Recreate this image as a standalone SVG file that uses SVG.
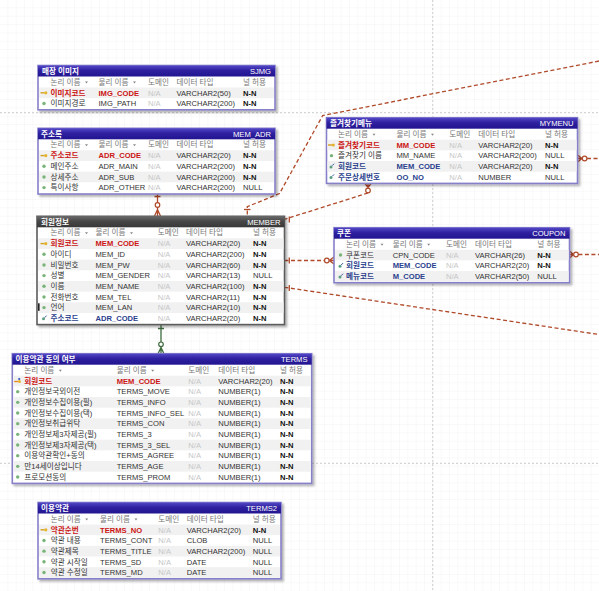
<svg xmlns="http://www.w3.org/2000/svg" xmlns:xlink="http://www.w3.org/1999/xlink" width="599" height="591" viewBox="0 0 599 591">
<style>
text{font-family:"Liberation Sans","Noto Sans CJK KR",sans-serif;font-size:7.6px;fill:#333}
.tt{fill:#fff;font-weight:bold}
.tr{fill:#fff}
.h{fill:#777}
.pk{fill:#cc1414;font-weight:bold}
.fk{fill:#2a3f8e;font-weight:bold}
.na{fill:#c6c6c6}
.nn{fill:#111;font-weight:bold}
.frame{fill:#fff;stroke:#8680c8;stroke-width:1.6}
.gframe{fill:#fff;stroke:#5c5c5c;stroke-width:1.6}
.s{fill:#f1f1f1}
.c{fill:none;stroke:#b04a2a;stroke-width:1.3}
.d{stroke-dasharray:4 2.5}
.g{fill:none;stroke:#3d6b3d;stroke-width:1.3}
.pg{stroke:#d4d4d4;stroke-width:1.2;stroke-dasharray:2 2}
</style>
<defs>
<pattern id="grid" width="8.333" height="8.333" patternUnits="userSpaceOnUse">
<path d="M8.333,0 V8.333 M0,8.333 H8.333" fill="none" stroke="#ececec" stroke-width="0.6"/>
</pattern>
<linearGradient id="tb" x1="0" y1="0" x2="0" y2="1">
<stop offset="0" stop-color="#5448c8"/><stop offset="0.45" stop-color="#2e209f"/><stop offset="1" stop-color="#221590"/>
</linearGradient>
<linearGradient id="tg" x1="0" y1="0" x2="0" y2="1">
<stop offset="0" stop-color="#6a6a6a"/><stop offset="0.45" stop-color="#474747"/><stop offset="1" stop-color="#383838"/>
</linearGradient>
<filter id="sh" x="-5%" y="-5%" width="115%" height="120%">
<feDropShadow dx="2" dy="2" stdDeviation="1.2" flood-color="#000" flood-opacity="0.3"/>
</filter>
<g id="ipk"><path d="M-3.5,0 H0.5" stroke="#d4a020" stroke-width="1.4"/><circle cx="1.8" cy="0" r="1.6" fill="#e6b42c"/></g>
<g id="ipf"><path d="M-3.5,0.5 H0.5" stroke="#e08a20" stroke-width="1.4"/><circle cx="1.8" cy="0.5" r="1.5" fill="#e6b42c"/><circle cx="1.5" cy="-2" r="1.1" fill="#3355bb"/></g>
<circle id="inn" r="1.7" fill="#78b478"/>
<g id="ifk"><circle cx="-0.5" cy="0.6" r="1.5" fill="#5aa080"/><path d="M0.6,-0.6 L2.6,-2.6" stroke="#3355aa" stroke-width="1"/></g>
<path id="tri" d="M0,-1.5 L3,-1.5 L1.5,0.5 Z" fill="#888"/>
</defs>

<rect width="599" height="591" fill="#fff"/>
<rect width="599" height="591" fill="url(#grid)"/>
<g id="pagebreaks">
<line class="pg" x1="432.7" y1="0" x2="432.7" y2="591"/>
<line class="pg" x1="0" y1="112.7" x2="599" y2="112.7"/>
<line class="pg" x1="0" y1="463.3" x2="599" y2="463.3"/>
</g>

<g id="connectors">
<polyline class="c d" points="599,61 322.7,115.5 279.5,193.5 247.3,206.7 247.3,216"/>
<path class="c" d="M244,209.5 H250.5"/>
<path class="c" d="M157.5,193 V216 M154.5,196.5 H160.5 M157.5,209.5 L154.5,216 M157.5,209.5 L160.5,216"/>
<circle cx="157.5" cy="205" r="2.3" fill="#fff" stroke="#b04a2a" stroke-width="1.2"/>
<path class="c d" d="M368,193 L284.5,219.3"/>
<path class="c" d="M289.3,216.5 V222.5 M368,187.5 L365,183.5 M368,187.5 V183.5 M368,187.5 L371,183.5"/>
<circle cx="368" cy="190.5" r="2.3" fill="#fff" stroke="#b04a2a" stroke-width="1.2"/>
<path class="c d" d="M284.5,260.5 H324.5"/>
<path class="c" d="M289.3,257.5 V263.5 M329.2,260.5 L334,257 M329.2,260.5 H334 M329.2,260.5 L334,264"/>
<circle cx="326.8" cy="260.5" r="2.3" fill="#fff" stroke="#b04a2a" stroke-width="1.2"/>
<path class="c d" d="M284.5,287.3 L599,334.5"/>
<path class="c" d="M289.3,285 V291"/>
<path class="c" d="M582,158.5 L577.5,155 M582,158.5 H577.5 M582,158.5 L577.5,162"/>
<circle cx="584.6" cy="158.5" r="2.3" fill="#fff" stroke="#b04a2a" stroke-width="1.2"/>
<path class="c d" d="M587,158.5 H599"/>
<path class="c" d="M573.5,254.5 L569.5,251 M573.5,254.5 H569.5 M573.5,254.5 L569.5,258"/>
<circle cx="576" cy="254.5" r="2.3" fill="#fff" stroke="#b04a2a" stroke-width="1.2"/>
<path class="c d" d="M578.4,254.5 H599"/>
<path class="g" d="M161,324.5 V353.7 M158,328.5 H164 M161,347.5 L158,353.7 M161,347.5 L164,353.7"/>
<circle cx="161" cy="344.3" r="2.3" fill="#fff" stroke="#3d6b3d" stroke-width="1.2"/>
</g>

<!-- SJMG -->
<g id="t-sjmg">
<rect class="frame" x="38" y="65.5" width="237" height="44.3" filter="url(#sh)"/>
<rect x="38" y="65.5" width="237" height="11" fill="url(#tb)"/>
<text class="tt" x="42" y="74">매장 이미지</text>
<text class="tr" x="271" y="74" text-anchor="end">SJMG</text>
<text class="h" x="50.5" y="84.5">논리 이름</text><use href="#tri" x="85" y="83"/>
<text class="h" x="98.5" y="84.5">물리 이름</text><use href="#tri" x="133" y="83"/>
<text class="h" x="148" y="84.5">도메인</text>
<text class="h" x="176.5" y="84.5">데이터 타입</text>
<text class="h" x="243" y="84.5">널 허용</text>
<g transform="translate(0,87.5)"><rect class="s" x="39" width="235" height="10.67"/><use href="#ipk" x="44" y="5.3"/>
<text class="pk" x="50.5" y="8">이미지코드</text><text class="pk" x="98.5" y="8">IMG_CODE</text><text class="na" x="148" y="8">N/A</text><text x="176.5" y="8">VARCHAR2(50)</text><text class="nn" x="243" y="8">N-N</text></g>
<g transform="translate(0,98.17)"><use href="#inn" x="44" y="5.3"/>
<text x="50.5" y="8">이미지경로</text><text x="98.5" y="8">IMG_PATH</text><text class="na" x="148" y="8">N/A</text><text x="176.5" y="8">VARCHAR2(200)</text><text class="nn" x="243" y="8">N-N</text></g>
</g>

<!-- MEM_ADR -->
<g id="t-mem-adr">
<rect class="frame" x="38" y="128.3" width="237" height="65.7" filter="url(#sh)"/>
<rect x="38" y="128.3" width="237" height="11" fill="url(#tb)"/>
<text class="tt" x="41" y="136.8">주소록</text>
<text class="tr" x="271" y="136.8" text-anchor="end">MEM_ADR</text>
<text class="h" x="50.5" y="147.3">논리 이름</text><use href="#tri" x="85" y="145.8"/>
<text class="h" x="98.5" y="147.3">물리 이름</text><use href="#tri" x="133" y="145.8"/>
<text class="h" x="148" y="147.3">도메인</text>
<text class="h" x="176.5" y="147.3">데이터 타입</text>
<text class="h" x="243" y="147.3">널 허용</text>
<g transform="translate(0,150.3)"><rect class="s" x="39" width="235" height="10.67"/><use href="#ipk" x="44" y="5.3"/>
<text class="pk" x="50.5" y="8">주소코드</text><text class="pk" x="98.5" y="8">ADR_CODE</text><text class="na" x="148" y="8">N/A</text><text x="176.5" y="8">VARCHAR2(20)</text><text class="nn" x="243" y="8">N-N</text></g>
<g transform="translate(0,160.97)"><use href="#inn" x="44" y="5.3"/>
<text x="50.5" y="8">메인주소</text><text x="98.5" y="8">ADR_MAIN</text><text class="na" x="148" y="8">N/A</text><text x="176.5" y="8">VARCHAR2(200)</text><text class="nn" x="243" y="8">N-N</text></g>
<g transform="translate(0,171.63)"><rect class="s" x="39" width="235" height="10.67"/><use href="#inn" x="44" y="5.3"/>
<text x="50.5" y="8">상세주소</text><text x="98.5" y="8">ADR_SUB</text><text class="na" x="148" y="8">N/A</text><text x="176.5" y="8">VARCHAR2(200)</text><text class="nn" x="243" y="8">N-N</text></g>
<g transform="translate(0,182.3)"><use href="#inn" x="44" y="5.3"/>
<text x="50.5" y="8">특이사항</text><text x="98.5" y="8">ADR_OTHER</text><text class="na" x="148" y="8">N/A</text><text x="176.5" y="8">VARCHAR2(200)</text><text x="243" y="8">NULL</text></g>
</g>

<!-- MYMENU -->
<g id="t-mymenu">
<rect class="frame" x="326.5" y="117.7" width="251" height="65.7" filter="url(#sh)"/>
<rect x="326.5" y="117.7" width="251" height="11" fill="url(#tb)"/>
<text class="tt" x="330" y="126.2">즐겨찾기메뉴</text>
<text class="tr" x="573.5" y="126.2" text-anchor="end">MYMENU</text>
<text class="h" x="338" y="136.7">논리 이름</text><use href="#tri" x="372.5" y="135.2"/>
<text class="h" x="396.5" y="136.7">물리 이름</text><use href="#tri" x="431" y="135.2"/>
<text class="h" x="449.3" y="136.7">도메인</text>
<text class="h" x="478.3" y="136.7">데이터 타입</text>
<text class="h" x="545" y="136.7">널 허용</text>
<g transform="translate(0,139.7)"><rect class="s" x="327.5" width="249" height="10.67"/><use href="#ipk" x="331.5" y="5.3"/>
<text class="pk" x="338" y="8">즐겨찾기코드</text><text class="pk" x="396.5" y="8">MM_CODE</text><text class="na" x="449.3" y="8">N/A</text><text x="478.3" y="8">VARCHAR2(20)</text><text class="nn" x="545" y="8">N-N</text></g>
<g transform="translate(0,150.37)"><use href="#inn" x="331.5" y="5.3"/>
<text x="338" y="8">즐겨찾기 이름</text><text x="396.5" y="8">MM_NAME</text><text class="na" x="449.3" y="8">N/A</text><text x="478.3" y="8">VARCHAR2(200)</text><text x="545" y="8">NULL</text></g>
<g transform="translate(0,161.03)"><rect class="s" x="327.5" width="249" height="10.67"/><use href="#ifk" x="331.5" y="5.3"/>
<text class="fk" x="338" y="8">회원코드</text><text class="fk" x="396.5" y="8">MEM_CODE</text><text class="na" x="449.3" y="8">N/A</text><text x="478.3" y="8">VARCHAR2(20)</text><text class="nn" x="545" y="8">N-N</text></g>
<g transform="translate(0,171.7)"><use href="#ifk" x="331.5" y="5.3"/>
<text class="fk" x="338" y="8">주문상세번호</text><text class="fk" x="396.5" y="8">OO_NO</text><text class="na" x="449.3" y="8">N/A</text><text x="478.3" y="8">NUMBER</text><text x="545" y="8">NULL</text></g>
</g>

<!-- MEMBER -->
<g id="t-member">
<rect class="gframe" x="37" y="216.3" width="247.5" height="108.3" filter="url(#sh)"/>
<rect x="37" y="216.3" width="247.5" height="11" fill="url(#tg)"/>
<text class="tt" x="41" y="224.8">회원정보</text>
<text class="tr" x="280.5" y="224.8" text-anchor="end">MEMBER</text>
<text class="h" x="50.5" y="235.3">논리 이름</text><use href="#tri" x="85" y="233.8"/>
<text class="h" x="95.5" y="235.3">물리 이름</text><use href="#tri" x="130" y="233.8"/>
<text class="h" x="157.7" y="235.3">도메인</text>
<text class="h" x="186" y="235.3">데이터 타입</text>
<text class="h" x="253" y="235.3">널 허용</text>
<g transform="translate(0,238.3)"><rect class="s" x="38" width="245.5" height="10.67"/><use href="#ipk" x="44" y="5.3"/>
<text class="pk" x="50.5" y="8">회원코드</text><text class="pk" x="95.5" y="8">MEM_CODE</text><text class="na" x="157.7" y="8">N/A</text><text x="186" y="8">VARCHAR2(20)</text><text class="nn" x="253" y="8">N-N</text></g>
<g transform="translate(0,248.97)"><use href="#inn" x="44" y="5.3"/>
<text x="50.5" y="8">아이디</text><text x="95.5" y="8">MEM_ID</text><text class="na" x="157.7" y="8">N/A</text><text x="186" y="8">VARCHAR2(200)</text><text class="nn" x="253" y="8">N-N</text></g>
<g transform="translate(0,259.63)"><rect class="s" x="38" width="245.5" height="10.67"/><use href="#inn" x="44" y="5.3"/>
<text x="50.5" y="8">비밀번호</text><text x="95.5" y="8">MEM_PW</text><text class="na" x="157.7" y="8">N/A</text><text x="186" y="8">VARCHAR2(60)</text><text class="nn" x="253" y="8">N-N</text></g>
<g transform="translate(0,270.3)"><use href="#inn" x="44" y="5.3"/>
<text x="50.5" y="8">성별</text><text x="95.5" y="8">MEM_GENDER</text><text class="na" x="157.7" y="8">N/A</text><text x="186" y="8">VARCHAR2(13)</text><text x="253" y="8">NULL</text></g>
<g transform="translate(0,280.97)"><rect class="s" x="38" width="245.5" height="10.67"/><use href="#inn" x="44" y="5.3"/>
<text x="50.5" y="8">이름</text><text x="95.5" y="8">MEM_NAME</text><text class="na" x="157.7" y="8">N/A</text><text x="186" y="8">VARCHAR2(100)</text><text class="nn" x="253" y="8">N-N</text></g>
<g transform="translate(0,291.63)"><use href="#inn" x="44" y="5.3"/>
<text x="50.5" y="8">전화번호</text><text x="95.5" y="8">MEM_TEL</text><text class="na" x="157.7" y="8">N/A</text><text x="186" y="8">VARCHAR2(11)</text><text class="nn" x="253" y="8">N-N</text></g>
<g transform="translate(0,302.3)"><rect class="s" x="38" width="245.5" height="10.67"/><rect x="38" y="1" width="1.6" height="7.5" fill="#222"/><use href="#inn" x="44" y="5.3"/>
<text x="50.5" y="8">언어</text><text x="95.5" y="8">MEM_LAN</text><text class="na" x="157.7" y="8">N/A</text><text x="186" y="8">VARCHAR2(10)</text><text class="nn" x="253" y="8">N-N</text></g>
<g transform="translate(0,312.97)"><use href="#ifk" x="44" y="5.3"/>
<text class="fk" x="50.5" y="8">주소코드</text><text class="fk" x="95.5" y="8">ADR_CODE</text><text class="na" x="157.7" y="8">N/A</text><text x="186" y="8">VARCHAR2(20)</text><text class="nn" x="253" y="8">N-N</text></g>
</g>

<!-- COUPON -->
<g id="t-coupon">
<rect class="frame" x="334" y="227.7" width="235.5" height="55" filter="url(#sh)"/>
<rect x="334" y="227.7" width="235.5" height="11" fill="url(#tb)"/>
<text class="tt" x="337" y="236.2">쿠폰</text>
<text class="tr" x="565.5" y="236.2" text-anchor="end">COUPON</text>
<text class="h" x="346" y="246.7">논리 이름</text><use href="#tri" x="380.5" y="245.2"/>
<text class="h" x="392.7" y="246.7">물리 이름</text><use href="#tri" x="427.2" y="245.2"/>
<text class="h" x="446" y="246.7">도메인</text>
<text class="h" x="475" y="246.7">데이터 타입</text>
<text class="h" x="537.3" y="246.7">널 허용</text>
<g transform="translate(0,249.7)"><rect class="s" x="335" width="233.5" height="10.67"/><use href="#inn" x="340.5" y="5.3"/>
<text x="346" y="8">쿠폰코드</text><text x="392.7" y="8">CPN_CODE</text><text class="na" x="446" y="8">N/A</text><text x="475" y="8">VARCHAR(26)</text><text class="nn" x="537.3" y="8">N-N</text></g>
<g transform="translate(0,260.37)"><use href="#ifk" x="340.5" y="5.3"/>
<text class="fk" x="346" y="8">회원코드</text><text class="fk" x="392.7" y="8">MEM_CODE</text><text class="na" x="446" y="8">N/A</text><text x="475" y="8">VARCHAR2(20)</text><text class="nn" x="537.3" y="8">N-N</text></g>
<g transform="translate(0,271.03)"><rect class="s" x="335" width="233.5" height="10.67"/><use href="#ifk" x="340.5" y="5.3"/>
<text class="fk" x="346" y="8">메뉴코드</text><text class="fk" x="392.7" y="8">M_CODE</text><text class="na" x="446" y="8">N/A</text><text x="475" y="8">VARCHAR2(50)</text><text x="537.3" y="8">NULL</text></g>
</g>

<!-- TERMS -->
<g id="t-terms">
<rect class="frame" x="12.3" y="353.7" width="299.4" height="129.7" filter="url(#sh)"/>
<rect x="12.3" y="353.7" width="299.4" height="11" fill="url(#tb)"/>
<text class="tt" x="15.5" y="362.2">이용약관 동의 여부</text>
<text class="tr" x="307.5" y="362.2" text-anchor="end">TERMS</text>
<text class="h" x="24.3" y="372.7">논리 이름</text><use href="#tri" x="58.8" y="371.2"/>
<text class="h" x="116.7" y="372.7">물리 이름</text><use href="#tri" x="151.2" y="371.2"/>
<text class="h" x="188.3" y="372.7">도메인</text>
<text class="h" x="218.3" y="372.7">데이터 타입</text>
<text class="h" x="280" y="372.7">널 허용</text>
<g transform="translate(0,375.7)"><rect class="s" x="13.3" width="297.4" height="10.67"/><use href="#ipf" x="17.7" y="5.3"/>
<text class="pk" x="24.3" y="8">회원코드</text><text class="pk" x="116.7" y="8">MEM_CODE</text><text class="na" x="188.3" y="8">N/A</text><text x="218.3" y="8">VARCHAR2(20)</text><text class="nn" x="280" y="8">N-N</text></g>
<g transform="translate(0,386.37)"><use href="#inn" x="17.7" y="5.3"/>
<text x="24.3" y="8">개인정보국외이전</text><text x="116.7" y="8">TERMS_MOVE</text><text class="na" x="188.3" y="8">N/A</text><text x="218.3" y="8">NUMBER(1)</text><text class="nn" x="280" y="8">N-N</text></g>
<g transform="translate(0,397.03)"><rect class="s" x="13.3" width="297.4" height="10.67"/><use href="#inn" x="17.7" y="5.3"/>
<text x="24.3" y="8">개인정보수집이용(필)</text><text x="116.7" y="8">TERMS_INFO</text><text class="na" x="188.3" y="8">N/A</text><text x="218.3" y="8">NUMBER(1)</text><text class="nn" x="280" y="8">N-N</text></g>
<g transform="translate(0,407.7)"><use href="#inn" x="17.7" y="5.3"/>
<text x="24.3" y="8">개인정보수집이용(택)</text><text x="116.7" y="8">TERMS_INFO_SEL</text><text class="na" x="188.3" y="8">N/A</text><text x="218.3" y="8">NUMBER(1)</text><text class="nn" x="280" y="8">N-N</text></g>
<g transform="translate(0,418.37)"><rect class="s" x="13.3" width="297.4" height="10.67"/><use href="#inn" x="17.7" y="5.3"/>
<text x="24.3" y="8">개인정보취급위탁</text><text x="116.7" y="8">TERMS_CON</text><text class="na" x="188.3" y="8">N/A</text><text x="218.3" y="8">NUMBER(1)</text><text class="nn" x="280" y="8">N-N</text></g>
<g transform="translate(0,429.03)"><use href="#inn" x="17.7" y="5.3"/>
<text x="24.3" y="8">개인정보제3자제공(필)</text><text x="116.7" y="8">TERMS_3</text><text class="na" x="188.3" y="8">N/A</text><text x="218.3" y="8">NUMBER(1)</text><text class="nn" x="280" y="8">N-N</text></g>
<g transform="translate(0,439.7)"><rect class="s" x="13.3" width="297.4" height="10.67"/><use href="#inn" x="17.7" y="5.3"/>
<text x="24.3" y="8">개인정보제3자제공(택)</text><text x="116.7" y="8">TERMS_3_SEL</text><text class="na" x="188.3" y="8">N/A</text><text x="218.3" y="8">NUMBER(1)</text><text class="nn" x="280" y="8">N-N</text></g>
<g transform="translate(0,450.37)"><use href="#inn" x="17.7" y="5.3"/>
<text x="24.3" y="8">이용약관확인+동의</text><text x="116.7" y="8">TERMS_AGREE</text><text class="na" x="188.3" y="8">N/A</text><text x="218.3" y="8">NUMBER(1)</text><text class="nn" x="280" y="8">N-N</text></g>
<g transform="translate(0,461.03)"><rect class="s" x="13.3" width="297.4" height="10.67"/><use href="#inn" x="17.7" y="5.3"/>
<text x="24.3" y="8">만14세이상입니다</text><text x="116.7" y="8">TERMS_AGE</text><text class="na" x="188.3" y="8">N/A</text><text x="218.3" y="8">NUMBER(1)</text><text class="nn" x="280" y="8">N-N</text></g>
<g transform="translate(0,471.7)"><use href="#inn" x="17.7" y="5.3"/>
<text x="24.3" y="8">프로모션동의</text><text x="116.7" y="8">TERMS_PROM</text><text class="na" x="188.3" y="8">N/A</text><text x="218.3" y="8">NUMBER(1)</text><text class="nn" x="280" y="8">N-N</text></g>
</g>

<!-- TERMS2 -->
<g id="t-terms2">
<rect class="frame" x="38" y="502.5" width="243" height="76.3" filter="url(#sh)"/>
<rect x="38" y="502.5" width="243" height="11" fill="url(#tb)"/>
<text class="tt" x="41" y="511">이용약관</text>
<text class="tr" x="277" y="511" text-anchor="end">TERMS2</text>
<text class="h" x="50.7" y="521.5">논리 이름</text><use href="#tri" x="85.2" y="520"/>
<text class="h" x="100" y="521.5">물리 이름</text><use href="#tri" x="134.5" y="520"/>
<text class="h" x="158.3" y="521.5">도메인</text>
<text class="h" x="186.7" y="521.5">데이터 타입</text>
<text class="h" x="252.7" y="521.5">널 허용</text>
<g transform="translate(0,524.5)"><rect class="s" x="39" width="241" height="10.67"/><use href="#ipk" x="44" y="5.3"/>
<text class="pk" x="50.7" y="8">약관순번</text><text class="pk" x="100" y="8">TERMS_NO</text><text class="na" x="158.3" y="8">N/A</text><text x="186.7" y="8">VARCHAR2(20)</text><text class="nn" x="252.7" y="8">N-N</text></g>
<g transform="translate(0,535.17)"><use href="#inn" x="44" y="5.3"/>
<text x="50.7" y="8">약관 내용</text><text x="100" y="8">TERMS_CONT</text><text class="na" x="158.3" y="8">N/A</text><text x="186.7" y="8">CLOB</text><text x="252.7" y="8">NULL</text></g>
<g transform="translate(0,545.83)"><rect class="s" x="39" width="241" height="10.67"/><use href="#inn" x="44" y="5.3"/>
<text x="50.7" y="8">약관제목</text><text x="100" y="8">TERMS_TITLE</text><text class="na" x="158.3" y="8">N/A</text><text x="186.7" y="8">VARCHAR2(200)</text><text x="252.7" y="8">NULL</text></g>
<g transform="translate(0,556.5)"><use href="#inn" x="44" y="5.3"/>
<text x="50.7" y="8">약관 시작일</text><text x="100" y="8">TERMS_SD</text><text class="na" x="158.3" y="8">N/A</text><text x="186.7" y="8">DATE</text><text x="252.7" y="8">NULL</text></g>
<g transform="translate(0,567.17)"><rect class="s" x="39" width="241" height="10.67"/><use href="#inn" x="44" y="5.3"/>
<text x="50.7" y="8">약관 수정일</text><text x="100" y="8">TERMS_MD</text><text class="na" x="158.3" y="8">N/A</text><text x="186.7" y="8">DATE</text><text x="252.7" y="8">NULL</text></g>
</g>
</svg>
